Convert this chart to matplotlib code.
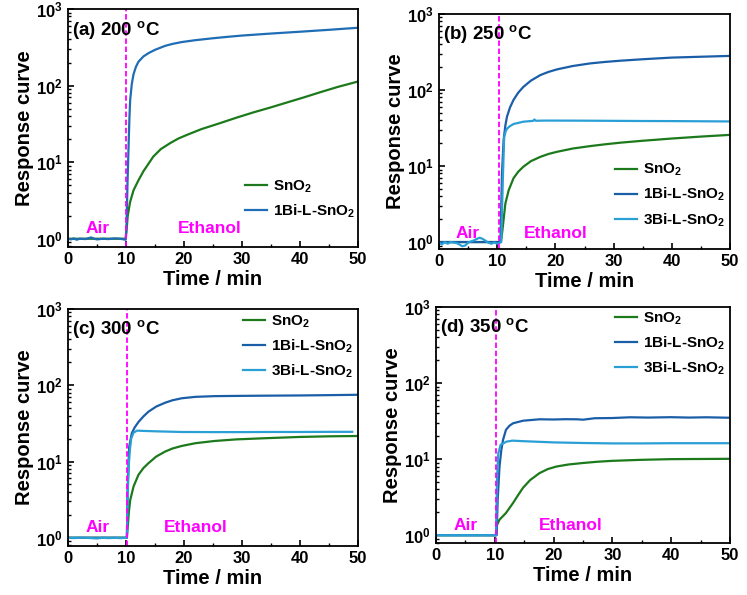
import matplotlib
matplotlib.use("Agg")
import matplotlib.pyplot as plt

plt.rcParams['font.family'] = ['Liberation Sans', 'DejaVu Sans']
plt.rcParams['font.weight'] = 'bold'
plt.rcParams['mathtext.fontset'] = 'custom'
plt.rcParams['mathtext.rm'] = 'Liberation Sans:bold'
plt.rcParams['mathtext.bf'] = 'Liberation Sans:bold'
plt.rcParams['mathtext.it'] = 'Liberation Sans:bold'
plt.rcParams['mathtext.default'] = 'bf'

C_SNO2 = '#1c7a1c'
C_1BI = '#1b5ea8'
C_1BI_A = '#1f6db5'
C_3BI = '#2a9fd6'
MAG = '#ff00ff'

# ---------- data (a) 200 C ----------
t_a_sno2 = [0, 2, 4, 6, 8, 9.95, 10.1, 10.3, 10.7, 11.3, 12.15, 13.0, 14.7, 16.0, 17.6, 19.0, 20.5, 23.0, 26.2, 29.0, 31.9, 35.0, 37.7, 40.5, 43.4, 46.5, 50]
v_a_sno2 = [1.0, 1.0, 1.0, 1.0, 1.0, 1.0, 1.3, 2.0, 3.0, 4.3, 5.8, 7.6, 11.8, 14.8, 17.7, 20.3, 22.7, 27.0, 32.3, 38.0, 44.5, 52.0, 60.0, 69.5, 81.5, 96.0, 113]
t_a_1bi = [0, 0.5, 1, 1.5, 2, 3, 4, 4.5, 5, 6, 7, 8, 9, 9.95, 10.1, 10.25, 10.43, 10.6, 10.72, 11.0, 11.29, 11.7, 12.15, 13.0, 13.87, 15.0, 16.74, 18.0, 19.6, 22.0, 25.0, 27.5, 30.0, 35.0, 40.0, 45.0, 50.0]
v_a_1bi = [1.0, 0.98, 1.01, 0.97, 1.0, 0.99, 1.04, 1.0, 0.98, 1.0, 0.99, 1.01, 1.0, 0.97, 1.6, 5, 15, 40, 65, 105, 140, 175, 205, 240, 265, 293, 330, 350, 370, 392, 415, 433, 450, 478, 505, 535, 569]

# ---------- data (b) 250 C ----------
t_b_sno2 = [0, 2, 4, 6, 8, 10.6, 10.75, 10.97, 11.4, 11.97, 12.8, 13.6, 14.5, 15.8, 17.4, 18.8, 20.3, 23.0, 26.0, 28.5, 31.2, 35.0, 40.0, 45.0, 50.0]
v_b_sno2 = [1.0, 1.0, 1.0, 1.0, 1.0, 1.0, 1.15, 1.6, 3.2, 4.8, 6.9, 8.4, 9.8, 11.6, 13.2, 14.4, 15.4, 17.0, 18.3, 19.3, 20.3, 21.5, 23.0, 24.4, 25.7]
t_b_1bi = [0, 2, 4, 6, 8, 10.55, 10.7, 10.82, 11.1, 11.4, 11.68, 12.2, 12.8, 13.6, 14.5, 15.8, 17.4, 18.8, 20.3, 23.0, 26.0, 28.5, 31.2, 35.0, 40.0, 45.0, 50.0]
v_b_1bi = [1.0, 1.0, 1.0, 1.0, 1.0, 1.0, 3.0, 8.0, 22, 34, 44.6, 59, 74, 92, 110, 133, 157, 173, 187, 207, 224, 234, 243, 254, 267, 274, 281]
t_b_3bi = [0, 0.5, 1, 1.5, 2, 3, 3.5, 4, 4.5, 5, 5.5, 6, 6.5, 7, 7.5, 8, 8.5, 9, 9.5, 10, 10.7, 10.85, 11.0, 11.2, 11.45, 11.68, 12.2, 12.8, 14.5, 16.2, 16.4, 16.6, 18.0, 20.0, 25, 30, 35, 40, 45, 50]
v_b_3bi = [0.98, 0.93, 1.0, 0.95, 1.0, 0.97, 0.93, 0.88, 0.9, 0.98, 1.02, 1.05, 1.1, 1.14, 1.1, 1.04, 0.98, 0.95, 0.99, 0.95, 1.0, 3.0, 8.0, 24, 28.5, 31, 33.5, 35.7, 38.3, 39.3, 41.0, 39.4, 39.6, 39.6, 39.5, 39.3, 39.1, 39.0, 38.8, 38.6]

# ---------- data (c) 300 C ----------
t_c_sno2 = [0, 2, 4, 6, 8, 10.15, 10.3, 10.5, 10.72, 11.3, 12.15, 13.0, 13.87, 15.2, 16.74, 18.0, 19.6, 22.0, 25.3, 29.0, 33.9, 40.0, 45.0, 50.0]
v_c_sno2 = [1.0, 1.0, 1.0, 1.0, 1.0, 1.0, 1.4, 2.2, 3.1, 4.7, 6.7, 8.2, 9.5, 11.6, 13.5, 14.8, 16.0, 17.4, 18.6, 19.5, 20.2, 21.0, 21.4, 21.6]
t_c_1bi = [0, 2, 4, 6, 8, 10.15, 10.3, 10.55, 11.0, 11.5, 12.15, 13.0, 13.87, 15.2, 16.74, 18.0, 19.6, 22.0, 25.3, 29.0, 33.9, 40.0, 45.0, 50.0]
v_c_1bi = [1.0, 1.0, 1.0, 1.0, 1.0, 1.0, 5.0, 15.6, 23.5, 28, 33, 39, 45, 52.5, 59, 63.5, 67.5, 70.5, 72, 72.5, 73, 73.5, 74.2, 75]
t_c_3bi = [0, 1, 2, 3, 4, 5, 6, 7, 8, 9, 10.15, 10.3, 10.5, 10.7, 10.9, 11.3, 11.9, 13.0, 15.0, 19.6, 25, 30, 35, 40, 45, 49]
v_c_3bi = [1.0, 0.99, 1.0, 1.0, 0.99, 0.98, 1.0, 0.99, 1.0, 0.99, 1.0, 4.0, 9.5, 15, 20, 23.9, 25.4, 25.2, 24.9, 24.4, 24.3, 24.3, 24.4, 24.4, 24.5, 24.5]

# ---------- data (d) 350 C ----------
t_d_sno2 = [0, 2, 4, 6, 8, 10.25, 10.35, 10.8, 11.9, 13.1, 14.0, 14.8, 16.0, 17.6, 19.0, 20.5, 22.5, 25, 27.5, 30, 35, 40, 45, 50]
v_d_sno2 = [1.0, 1.0, 1.0, 1.0, 1.0, 1.0, 1.35, 1.6, 1.96, 2.65, 3.4, 4.2, 5.3, 6.55, 7.4, 8.0, 8.5, 8.9, 9.25, 9.5, 9.8, 10.0, 10.05, 10.1]
t_d_1bi = [0, 2, 4, 6, 8, 10.3, 10.5, 10.8, 11.1, 11.4, 11.9, 12.5, 13.1, 14.8, 17.6, 20, 22, 24, 25, 27, 30, 33, 36, 40, 43, 46, 50]
v_d_1bi = [1.0, 1.0, 1.0, 1.0, 1.0, 1.0, 3, 8, 13, 17.9, 24.3, 27.5, 29.6, 32, 33.4, 33.2, 33.5, 33.4, 33.0, 34.5, 34.7, 35.5, 35.2, 35.6, 35.2, 35.5, 35.0]
t_d_3bi = [0, 2, 4, 6, 8, 10.2, 10.4, 10.6, 11.0, 12, 13, 15, 20, 25, 30, 35, 40, 45, 50]
v_d_3bi = [1.0, 1.0, 1.0, 1.0, 1.0, 1.0, 6, 12, 15.5, 17, 17.5, 17.2, 16.6, 16.3, 16.1, 16.1, 16.2, 16.2, 16.2]

# vertical gas-switch positions
switch = [10.0, 10.25, 10.15, 10.2]
panel_titles = ['(a) 200 $^{\\rm o}$C', '(b) 250 $^{\\rm o}$C', '(c) 300 $^{\\rm o}$C', '(d) 350 $^{\\rm o}$C']

W, H = 747, 595
fig = plt.figure(figsize=(W / 100, H / 100), dpi=100)

boxes = [(68, 358, 9, 247), (439, 730, 14, 249), (68, 358, 309, 546), (436, 730, 307, 543)]
ylow = [0.78, 0.81, 0.78, 0.79]
axes = []
for (l, r, t, b) in boxes:
    ax = fig.add_axes([l / W, 1 - b / H, (r - l) / W, (b - t) / H])
    axes.append(ax)

series = [
    [(t_a_sno2, v_a_sno2, C_SNO2, 'SnO$_2$'), (t_a_1bi, v_a_1bi, C_1BI_A, '1Bi-L-SnO$_2$')],
    [(t_b_sno2, v_b_sno2, C_SNO2, 'SnO$_2$'), (t_b_1bi, v_b_1bi, C_1BI, '1Bi-L-SnO$_2$'), (t_b_3bi, v_b_3bi, C_3BI, '3Bi-L-SnO$_2$')],
    [(t_c_sno2, v_c_sno2, C_SNO2, 'SnO$_2$'), (t_c_1bi, v_c_1bi, C_1BI, '1Bi-L-SnO$_2$'), (t_c_3bi, v_c_3bi, C_3BI, '3Bi-L-SnO$_2$')],
    [(t_d_sno2, v_d_sno2, C_SNO2, 'SnO$_2$'), (t_d_1bi, v_d_1bi, C_1BI, '1Bi-L-SnO$_2$'), (t_d_3bi, v_d_3bi, C_3BI, '3Bi-L-SnO$_2$')],
]

leg_anchor = [(0.578, 0.328), (0.572, 0.409), (0.571, 1.02), (0.577, 1.025)]
air_pos = [(3.0, 1.35), (2.8, 1.3), (3.0, 1.35), (3.0, 1.35)]
eth_pos = [(19.0, 1.35), (14.5, 1.3), (16.5, 1.35), (17.5, 1.35)]

for i, ax in enumerate(axes):
    for (tt, vv, c, lab) in series[i]:
        ax.plot(tt, vv, color=c, lw=1.6, label=lab)
    ax.axvline(switch[i], color=MAG, lw=1.3, ls=(0, (3, 1.5)))
    ax.set_yscale('log')
    ax.set_xlim(0, 50)
    ax.set_ylim(ylow[i], 1000)
    ax.set_xticks([0, 10, 20, 30, 40, 50])
    ax.set_xticks([5, 15, 25, 35, 45], minor=True)
    ax.tick_params(which='both', direction='in', top=False, right=False, labelsize=12)
    ax.tick_params(which='major', length=4, width=1.2)
    ax.tick_params(which='minor', length=2.5, width=1)
    for lab in ax.get_xticklabels() + ax.get_yticklabels():
        lab.set_fontweight('bold')
    for sp in ax.spines.values():
        sp.set_linewidth(1.3)
    ax.set_xlabel('Time / min', fontsize=14.5, fontweight='bold', labelpad=2)
    ax.set_ylabel('Response curve', fontsize=14.5, fontweight='bold', labelpad=2)
    ax.text(0.015, 0.96, panel_titles[i], transform=ax.transAxes, ha='left', va='top',
            fontsize=13.5, fontweight='bold')
    ax.text(air_pos[i][0], air_pos[i][1], 'Air', color=MAG, fontsize=12.5, fontweight='bold',
            ha='left', va='center')
    ax.text(eth_pos[i][0], eth_pos[i][1], 'Ethanol', color=MAG, fontsize=12.5, fontweight='bold',
            ha='left', va='center')
    ax.legend(loc='upper left', bbox_to_anchor=leg_anchor[i], frameon=False,
              prop={'size': 11, 'weight': 'bold'}, handlelength=1.45, handletextpad=0.4,
              labelspacing=0.5, borderaxespad=0.2)

fig.savefig('out.png', dpi=100)
